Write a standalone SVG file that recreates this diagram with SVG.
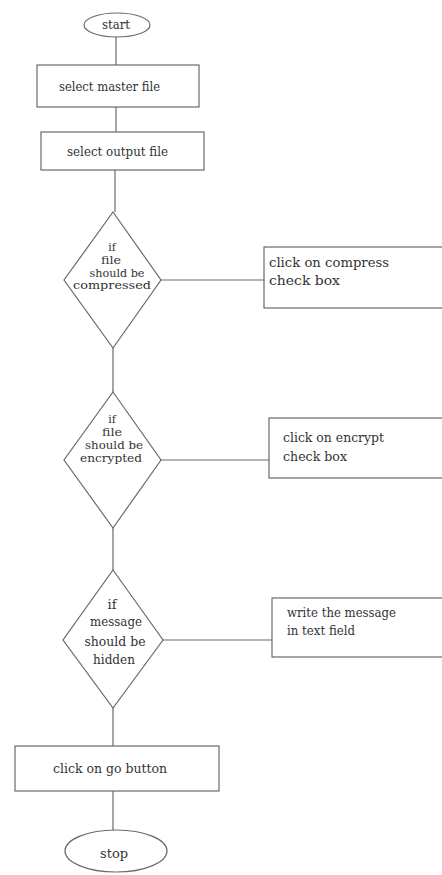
<svg xmlns="http://www.w3.org/2000/svg" width="442" height="875" viewBox="0 0 442 875">
<style>
.s{fill:#fff;stroke:#6a6a6a;stroke-width:1.2}
.c{fill:none;stroke:#6a6a6a;stroke-width:1.2}
text{font-family:'DejaVu Serif','Liberation Serif',serif;font-size:13px;fill:#333}
.m{text-anchor:middle}
.d{font-size:11px}
</style>
<rect width="442" height="875" fill="#fff"/>
<g id="connectors">
<line class="c" x1="116" y1="37" x2="116" y2="65"/>
<line class="c" x1="116" y1="107" x2="116" y2="132"/>
<line class="c" x1="115" y1="170" x2="115" y2="212"/>
<line class="c" x1="113" y1="348" x2="113" y2="392"/>
<line class="c" x1="113" y1="528" x2="113" y2="570"/>
<line class="c" x1="113" y1="708" x2="113" y2="746"/>
<line class="c" x1="113" y1="791" x2="113" y2="830"/>
<line class="c" x1="161" y1="280" x2="264" y2="280"/>
<line class="c" x1="161" y1="460" x2="269" y2="460"/>
<line class="c" x1="163" y1="640" x2="272" y2="640"/>
</g>
<g id="start">
<ellipse class="s" cx="117" cy="25" rx="33" ry="12"/>
<text x="102" y="29" textLength="28" lengthAdjust="spacingAndGlyphs">start</text>
</g>
<g id="select-master">
<rect class="s" x="37" y="65" width="162" height="42"/>
<text x="59" y="91" textLength="101" lengthAdjust="spacingAndGlyphs">select master file</text>
</g>
<g id="select-output">
<rect class="s" x="41" y="132" width="163" height="38"/>
<text x="67" y="156" textLength="101" lengthAdjust="spacingAndGlyphs">select output file</text>
</g>
<g id="decision-compress">
<polygon class="s" points="113,212 161,280 113,348 64,280"/>
<text class="m d" x="112" y="251">if</text>
<text class="m d" x="111" y="264" textLength="20" lengthAdjust="spacingAndGlyphs">file</text>
<text class="m d" x="117" y="277" textLength="55" lengthAdjust="spacingAndGlyphs">should be</text>
<text class="m d" x="112" y="289" textLength="78" lengthAdjust="spacingAndGlyphs">compressed</text>
</g>
<g id="compress-box">
<rect class="s" x="264" y="247" width="190" height="61"/>
<text x="269" y="267" textLength="120" lengthAdjust="spacingAndGlyphs">click on compress</text>
<text x="269" y="285" textLength="71" lengthAdjust="spacingAndGlyphs">check box</text>
</g>
<g id="decision-encrypt">
<polygon class="s" points="113,392 161,460 113,528 64,460"/>
<text class="m d" x="112" y="423">if</text>
<text class="m d" x="112" y="436" textLength="20" lengthAdjust="spacingAndGlyphs">file</text>
<text class="m d" x="114" y="449" textLength="58" lengthAdjust="spacingAndGlyphs">should be</text>
<text class="m d" x="111" y="462" textLength="62" lengthAdjust="spacingAndGlyphs">encrypted</text>
</g>
<g id="encrypt-box">
<rect class="s" x="269" y="418" width="185" height="60"/>
<text x="283" y="442" textLength="101" lengthAdjust="spacingAndGlyphs">click on encrypt</text>
<text x="283" y="461" textLength="64" lengthAdjust="spacingAndGlyphs">check box</text>
</g>
<g id="decision-message">
<polygon class="s" points="113,570 163,640 113,708 63,640"/>
<text class="m" x="112" y="609">if</text>
<text class="m" x="116" y="626" textLength="52" lengthAdjust="spacingAndGlyphs">message</text>
<text class="m" x="115" y="646" textLength="61" lengthAdjust="spacingAndGlyphs">should be</text>
<text class="m" x="114" y="664" textLength="42" lengthAdjust="spacingAndGlyphs">hidden</text>
</g>
<g id="message-box">
<rect class="s" x="272" y="598" width="182" height="59"/>
<text x="287" y="617" textLength="109" lengthAdjust="spacingAndGlyphs">write the message</text>
<text x="287" y="635" textLength="68" lengthAdjust="spacingAndGlyphs">in text field</text>
</g>
<g id="go-button">
<rect class="s" x="15" y="746" width="204" height="45"/>
<text x="53" y="773" textLength="114" lengthAdjust="spacingAndGlyphs">click on go button</text>
</g>
<g id="stop">
<ellipse class="s" cx="116" cy="851" rx="51" ry="21"/>
<text x="100" y="858" textLength="28" lengthAdjust="spacingAndGlyphs">stop</text>
</g>
</svg>
